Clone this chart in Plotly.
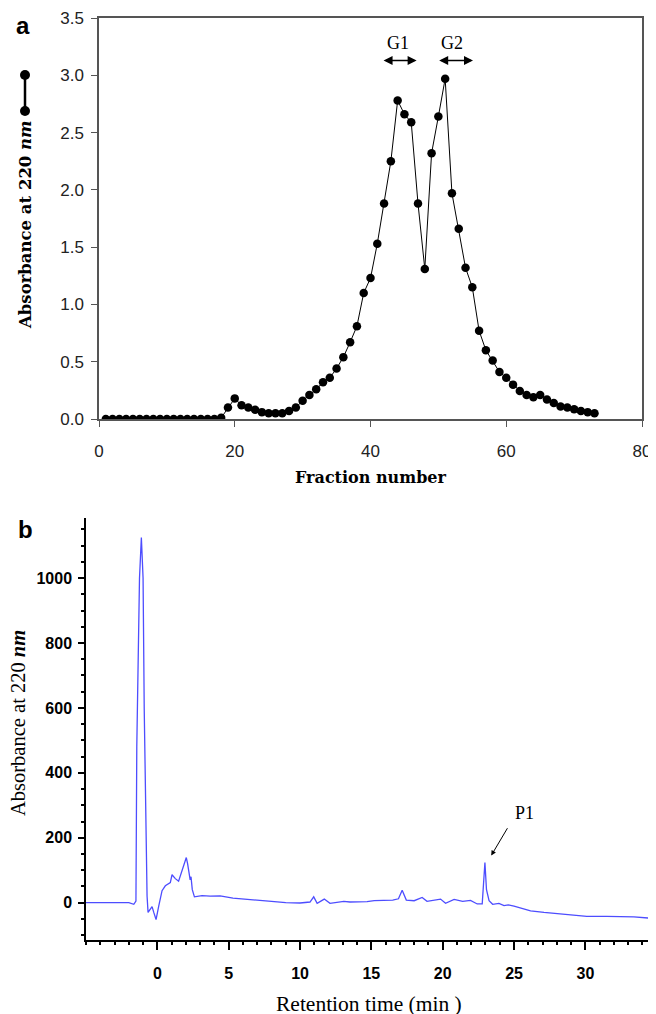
import plotly.graph_objects as go

# panel a: gel filtration fractions
fraction = list(range(1, 74))
absorb_a = [
    0.0, 0.0, 0.0, 0.0, 0.0, 0.0, 0.0, 0.0, 0.0, 0.0,
    0.0, 0.0, 0.0, 0.0, 0.0, 0.0, 0.0, 0.01, 0.10, 0.18,
    0.12, 0.10, 0.08, 0.06, 0.05, 0.05, 0.05, 0.07, 0.10, 0.16,
    0.21, 0.26, 0.32, 0.36, 0.44, 0.54, 0.67, 0.81, 1.10, 1.23,
    1.53, 1.88, 2.25, 2.78, 2.66, 2.59, 1.88, 1.31, 2.32, 2.64,
    2.97, 1.97, 1.66, 1.32, 1.15, 0.77, 0.60, 0.51, 0.41, 0.36,
    0.30, 0.245, 0.21, 0.19, 0.21, 0.17, 0.14, 0.11, 0.10, 0.085,
    0.07, 0.06, 0.05,
]

# panel b: HPLC chromatogram
ret_time = [
    -5.0, -2.0, -1.65, -1.55, -1.50, -1.44, -1.25, -1.12, -1.00, -0.92,
    -0.82, -0.72, -0.65, -0.50, -0.37, -0.25, -0.09, 0.10, 0.33, 0.56,
    0.91, 1.03, 1.26, 1.49, 1.73, 2.03, 2.12, 2.19, 2.30, 2.36,
    2.45, 2.60, 3.13, 3.70, 4.40, 5.30, 6.00, 7.20, 8.00, 9.00,
    10.00, 10.70, 10.96, 11.20, 11.70, 12.10, 13.07, 13.50, 14.70, 15.20,
    16.50, 16.90, 17.16, 17.45, 18.00, 18.56, 18.90, 19.85, 20.20, 20.80,
    21.40, 21.95, 22.42, 22.77, 22.85, 22.96, 23.07, 23.25, 23.50, 23.94,
    24.30, 24.60, 25.00, 25.50, 26.16, 27.10, 28.50, 30.10, 31.50, 33.40,
    34.60,
]
absorb_b = [
    0, 0, -5, 0, 5, 480, 1000, 1125, 1000, 600,
    250, 20, -30, -22, -12, -30, -52, -10, 37, 52,
    62, 86, 74, 66, 98, 139, 120, 93, 70, 80,
    40, 18, 22, 20, 21, 14, 12, 8, 4, 0,
    -1, 2, 18, -2, 11, -2, 4, 2, 3, 6,
    8, 12, 38, 8, 6, 16, 4, 11, -2, 10,
    4, 7, -4, -4, 40, 124, 40, 6, -5, -2,
    -9, -7, -11, -17, -25, -30, -35, -42, -42, -44,
    -48,
]

W, H = 656, 1014
PAD_X, PAD_Y = 8, 7  # the html body margin shifts the figure
SERIF = "Liberation Serif"
SANS = "Liberation Sans"
HEAVY = "DejaVu Serif"


def px_x(p):
    return (p - PAD_X) / W


def px_y(p):
    return 1 - (p - PAD_Y) / H


fig = go.Figure()

fig.add_trace(go.Scatter(
    x=fraction, y=absorb_a, mode="lines+markers",
    line=dict(color="black", width=1),
    marker=dict(color="black", size=8.5),
    xaxis="x", yaxis="y", showlegend=False,
))

fig.add_trace(go.Scatter(
    x=ret_time, y=absorb_b, mode="lines",
    line=dict(color="#4d4dff", width=1.3),
    xaxis="x2", yaxis="y2", showlegend=False,
))

axis_a = dict(showgrid=False, zeroline=False, showline=True, linecolor="#555",
              linewidth=1.5, mirror=True, ticks="outside", ticklen=6, automargin=False,
              ticklabeloverflow="allow",
              tickcolor="#555", tickfont=dict(family=SANS, size=17, color="#222"))

axis_b = dict(showgrid=False, zeroline=False, showline=True, linecolor="black",
              linewidth=1.5, ticks="outside", tickcolor="black", tickwidth=1.5,
              automargin=False, ticklabeloverflow="allow",
              tickfont=dict(family=SANS, size=16, color="black", weight="bold"))

fig.update_layout(
    width=W, height=H,
    margin=dict(l=0, r=0, t=0, b=0),
    plot_bgcolor="white", paper_bgcolor="white",
    xaxis=dict(axis_a, domain=[px_x(99), px_x(642)], anchor="y",
               range=[0, 80], tickvals=[0, 20, 40, 60, 80],
               ticklabelstandoff=10),
    yaxis=dict(axis_a, domain=[px_y(418), px_y(17)], anchor="x",
               range=[0, 3.5], dtick=0.5, tickformat=".1f",
               ticklabelstandoff=4),
    xaxis2=dict(axis_b, domain=[px_x(86), px_x(651)], anchor="y2",
                range=[-5, 34.6], tickvals=[0, 5, 10, 15, 20, 25, 30],
                ticklen=8, ticklabelstandoff=10,
                minor=dict(dtick=1, tick0=0, ticklen=3, ticks="outside", tickcolor="black")),
    yaxis2=dict(axis_b, domain=[px_y(939), px_y(517)], anchor="x2",
                range=[-115, 1185], tickvals=[0, 200, 400, 600, 800, 1000],
                ticklen=6, ticklabelstandoff=3,
                minor=dict(dtick=50, tick0=0, ticklen=3, ticks="outside", tickcolor="black")),
)

annotations = [
    dict(text="<b>a</b>", x=px_x(23), y=px_y(25), font=dict(family=SANS, size=24, color="black")),
    dict(text="<b>b</b>", x=px_x(25), y=px_y(528), font=dict(family=SANS, size=24, color="black")),
    dict(text="<b>Absorbance at 220 <i>nm</i></b>", x=px_x(26), y=px_y(224), textangle=-90,
         font=dict(family=HEAVY, size=16.5, color="black")),
    dict(text="<b>Fraction number</b>", x=px_x(371), y=px_y(477),
         font=dict(family=HEAVY, size=16, color="black")),
    dict(text="Absorbance at 220 <b><i>nm</i></b>", x=px_x(18), y=px_y(722), textangle=-90,
         font=dict(family=SERIF, size=20.5, color="black")),
    dict(text="Retention time (min )", x=px_x(369), y=px_y(1003),
         font=dict(family=SERIF, size=21.5, color="black")),
]
for a in annotations:
    a.update(xref="paper", yref="paper", showarrow=False, xanchor="center", yanchor="middle")
    fig.add_annotation(**a)

# G1 / G2 labels with double-headed arrows
for label, xc, x0, x1 in [("G1", 44.0, 41.7, 46.8), ("G2", 52.0, 49.9, 55.1)]:
    fig.add_annotation(text=label, x=xc, y=3.28, xref="x", yref="y", showarrow=False,
                       font=dict(family=SERIF, size=18, color="black"))
    fig.add_annotation(text="", x=x1, y=3.13, ax=x0, ay=3.13, xref="x", yref="y",
                       axref="x", ayref="y", showarrow=True, arrowside="end+start",
                       arrowhead=2, startarrowhead=2, arrowsize=1.2, startarrowsize=1.2,
                       arrowwidth=1.5, arrowcolor="black", standoff=0, startstandoff=0)

# P1 label and arrow
fig.add_annotation(text="P1", x=25.7, y=277, xref="x2", yref="y2", showarrow=False,
                   font=dict(family=SERIF, size=18, color="black"))
fig.add_annotation(text="", x=23.4, y=145, ax=24.6, ay=234, xref="x2", yref="y2",
                   axref="x2", ayref="y2", showarrow=True, arrowhead=2, arrowsize=1,
                   arrowwidth=1, arrowcolor="black")

# legend symbol next to the panel a axis title
sx, st, sb, r = 25, 74, 110, 5
fig.add_shape(type="line", xref="paper", yref="paper", x0=px_x(sx), x1=px_x(sx),
              y0=px_y(st), y1=px_y(sb), line=dict(color="black", width=2.5))
for cy in (st, sb):
    fig.add_shape(type="circle", xref="paper", yref="paper",
                  x0=px_x(sx - r), x1=px_x(sx + r), y0=px_y(cy + r), y1=px_y(cy - r),
                  fillcolor="black", line=dict(color="black", width=0))

fig.write_html("out.html")
